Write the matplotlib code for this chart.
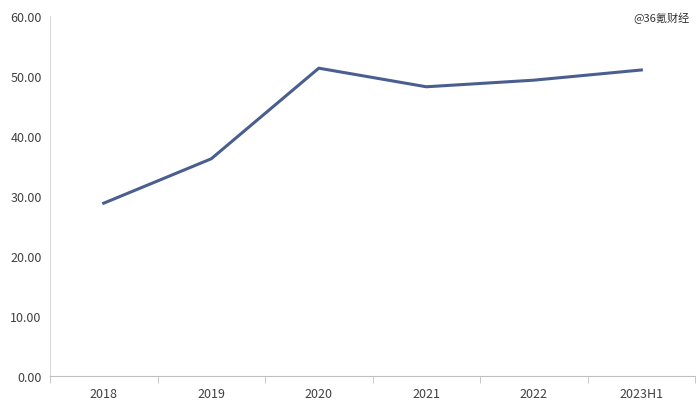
import matplotlib
matplotlib.use("Agg")
import matplotlib.pyplot as plt
import numpy as np

plt.rcParams["font.family"] = ["Noto Sans CJK SC", "DejaVu Sans"]

categories = ["2018", "2019", "2020", "2021", "2022", "2023H1"]
values = [28.8, 36.2, 51.3, 48.2, 49.3, 51.0]

fig = plt.figure(figsize=(7, 4.14), dpi=100)
ax = fig.add_axes([0.0714, 0.0894, 0.9216, 0.8696])

x = np.arange(len(categories))
ax.plot(x, values, color="#4a5f8f", linewidth=2.2)

ax.set_xlim(-0.5, len(categories) - 0.5)
ax.set_ylim(0, 60)
ax.set_yticks(np.arange(0, 61, 10))
ax.set_yticklabels([f"{v:.2f}" for v in np.arange(0, 61, 10)], fontsize=9, color="#404040")
ax.set_xticks(x)
ax.set_xticklabels(categories, fontsize=9, color="#404040")
ax.tick_params(axis="x", length=0, pad=8)
ax.tick_params(axis="y", length=0, pad=6)
ax.set_xticks(np.arange(-0.5, len(categories), 1), minor=True)
ax.tick_params(axis="x", which="minor", length=5, color="#bfbfbf")

for s in ["top", "right"]:
    ax.spines[s].set_visible(False)
ax.spines["left"].set_color("#d9d9d9")
ax.spines["bottom"].set_color("#bfbfbf")

fig.text(0.985, 0.955, "@36氪财经", ha="right", va="center", fontsize=8, color="#333333")

fig.savefig("out.png", dpi=100)
